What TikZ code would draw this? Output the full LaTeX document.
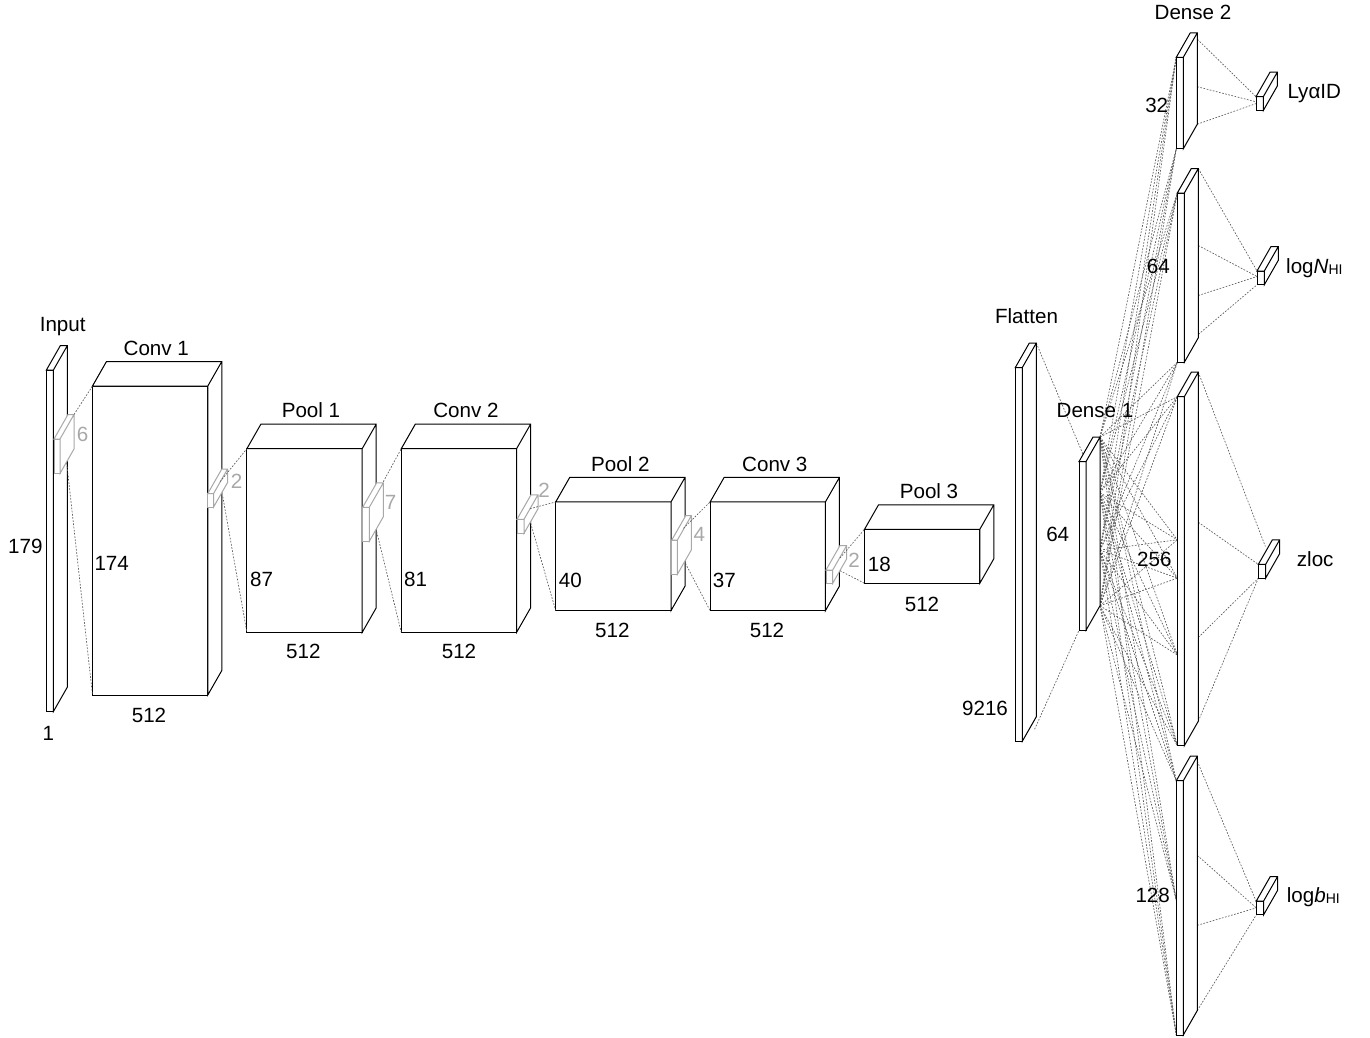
\documentclass[tikz,border=0pt]{standalone}
\usepackage{fontspec}
\setmainfont{Liberation Sans}
\usetikzlibrary{positioning, calc, backgrounds}
\definecolor{kerngray}{HTML}{A8A8A8}
\definecolor{linkgray}{HTML}{5A5A5A}
\newcommand{\hisub}{\raisebox{-1pt}{\fontsize{14}{14}\selectfont HI}}

\begin{document}
\begin{tikzpicture}[
  x=1pt, y=-1pt,
  node distance=39.1pt,
  layerbox/.style={draw=black, line width=1pt, fill=white, inner sep=0pt, outer sep=0pt},
  kernelbox/.style={draw=kerngray, line width=1pt, fill=white, inner sep=0pt, outer sep=0pt},
  bigbox/.style={layerbox, minimum width=115.3pt},
  slimbox/.style={layerbox, minimum width=7pt},
  outbox/.style={layerbox, minimum width=7.3pt, minimum height=13.8pt},
  link/.style={draw=linkgray, line width=0.65pt, dash pattern=on 1.7pt off 1.5pt},
  lbl/.style={anchor=base, inner sep=0pt, font=\fontsize{20.6}{24}\selectfont},
  kernlbl/.style={lbl, text=kerngray},
  outlbl/.style={lbl, anchor=base west}
]
  \useasboundingbox (0,0) rectangle (1370,1038);

  \node[slimbox, minimum height=341.5pt] (input) at (49.9,540.75) {};
  \node[bigbox, minimum height=309pt, right=of input, yshift=0.25pt] (conv1) {};
  \node[bigbox, minimum height=183.7pt, right=of conv1] (pool1) {};
  \node[bigbox, minimum height=183.7pt, right=of pool1] (conv2) {};
  \node[bigbox, minimum height=108.7pt, right=of conv2, yshift=-15.8pt] (pool2) {};
  \node[bigbox, minimum height=108.7pt, right=of pool2] (conv3) {};
  \node[bigbox, minimum height=54pt, right=of conv3] (pool3) {};
  \node[slimbox, minimum height=373.7pt, right=35.5pt of pool3, yshift=1.9pt] (flatten) {};
  \node[slimbox, minimum height=168.7pt, right=56.7pt of flatten, yshift=8.5pt] (dense1) {};

  \node[slimbox, minimum height=91.4pt, anchor=north west] (dlya) at (1176.3,57.3) {};
  \node[slimbox, minimum height=169.3pt, anchor=north west] (dlogn) at (1177.3,193) {};
  \node[slimbox, minimum height=349pt, anchor=north west] (dzloc) at (1177.3,396.7) {};
  \node[slimbox, minimum height=254.3pt, anchor=north west] (dlogb) at (1176.3,780.7) {};

  \node[outbox, anchor=north west] (olya) at (1256,96.7) {};
  \node[outbox, anchor=north west] (ologn) at (1257,271) {};
  \node[outbox, anchor=north west] (ozloc) at (1258.3,564.4) {};
  \node[outbox, anchor=north west] (ologb) at (1256.3,901) {};

  \foreach \n in {input,conv1,pool1,conv2,pool2,conv3,pool3,flatten,dense1,dlya,dlogn,dzloc,dlogb,olya,ologn,ozloc,ologb}
    \draw[layerbox] (\n.north west) -- ($(\n.north west)+(14,-24.5)$) -- ($(\n.north east)+(14,-24.5)$)
      -- ($(\n.south east)+(14,-24.5)$) -- (\n.south east) -- (\n.north east) -- cycle
      (\n.north east) -- ($(\n.north east)+(14,-24.5)$);

  \node[kernelbox, minimum width=6pt, minimum height=34.5pt, anchor=north west] (k1) at (54,439) {};
  \node[kernelbox, minimum width=5.8pt, minimum height=13.5pt, anchor=north west] (k2) at (207.8,493.5) {};
  \node[kernelbox, minimum width=6.6pt, minimum height=34pt, anchor=north west] (k3) at (362.7,507.3) {};
  \node[kernelbox, minimum width=7pt, minimum height=14pt, anchor=north west] (k4) at (517,519.3) {};
  \node[kernelbox, minimum width=5.6pt, minimum height=34.3pt, anchor=north west] (k5) at (671.8,540) {};
  \node[kernelbox, minimum width=6.7pt, minimum height=13.3pt, anchor=north west] (k6) at (826,570) {};

  \foreach \n in {k1,k2,k3,k4,k5,k6}
    \draw[kernelbox] (\n.north west) -- ($(\n.north west)+(14,-24.5)$) -- ($(\n.north east)+(14,-24.5)$)
      -- ($(\n.south east)+(14,-24.5)$) -- (\n.south east) -- (\n.north east) -- cycle
      (\n.north east) -- ($(\n.north east)+(14,-24.5)$);

  \foreach \k/\nxt/\ax/\ay/\bx/\by in {k1/conv1/14/-24.5/6.7/-10.5, k2/pool1/6.5/-11.8/9.2/-10.3,
      k3/conv2/14/-25.6/7.4/-9.6, k4/pool2/6/-10.6/6.7/-10, k5/conv3/6/-11.7/8/-11, k6/pool3/7.3/-12/7.3/-12.6} {
    \draw[link] ($(\k.north east)+(\ax,\ay)$) -- (\nxt.north west);
    \draw[link] ($(\k.south east)+(\bx,\by)$) -- (\nxt.south west);
  }

  \begin{scope}[on background layer]
    \draw[link] ($(flatten.north east)+(14,-24.5)$) -- (dense1.north east);
    \draw[link] ($(flatten.south east)+(12.3,-12)$) -- (dense1.south west);
    \draw[link] ($(dzloc.north east)+(14,-24.5)$) -- ($(ozloc.north west)+(7,-18)$);

    \foreach \s in {0,.33,.67,1}
      \foreach \tgt/\f in {dlya/0,dlya/1,dlogn/0,dlogn/1,dzloc/0,dzloc/.41,dzloc/.52,dzloc/.74,dzloc/1,dlogb/0,dlogb/.47,dlogb/1}
        \draw[link] ($(dense1.north east)!\s!(dense1.south east)+(14,-24.5)$) -- ($(\tgt.north west)!\f!(\tgt.south west)$);

    \foreach \blk/\outp/\f/\g in {dlya/olya/.07/0, dlya/olya/.59/.37, dlya/olya/1/.5,
        dlogn/ologn/0/0, dlogn/ologn/.455/.4, dlogn/ologn/.75/.4, dlogn/ologn/.98/1,
        dzloc/ozloc/.43/0, dzloc/ozloc/.76/1, dzloc/ozloc/1/1,
        dlogb/ologb/.02/.05, dlogb/ologb/.39/.5, dlogb/ologb/.665/.5, dlogb/ologb/1/1}
      \draw[link] ($(\blk.north east)!\f!(\blk.south east)+(14,-24.5)$) -- ($(\outp.north west)!\g!(\outp.south west)$);
  \end{scope}

  \foreach \x/\y/\t [count=\i] in {62.7/331/Input, 156.3/355.7/Conv 1, 311/417.7/Pool 1, 466/417.7/Conv 2,
      620.3/471.7/Pool 2, 774.8/471.7/Conv 3, 929/498/Pool 3, 1026.5/323/Flatten, 1095/417.3/Dense 1, 1193/20/Dense 2,
      25.3/553.3/179, 48.3/740/1, 149/722.3/512, 111.7/570/174, 303.3/658.3/512, 261.7/586.7/87,
      459/658.3/512, 415.7/586.7/81, 612.3/637.7/512, 570.3/587.7/40, 767/637.7/512, 724.3/587.7/37,
      879.3/571.7/18, 922/611/512, 985/715/9216, 1057.7/541.7/64, 1154.3/566.7/256,
      1156.7/112.7/32, 1158.3/273.3/64, 1152.7/902.7/128}
    \node[lbl] (lab\i) at (\x,\y) {\t};

  \foreach \x/\y/\t [count=\i] in {82.7/441/6, 236.7/488.3/2, 390.7/509/7, 544/497.7/2, 699.3/541.7/4, 854/567.7/2}
    \node[kernlbl] (kl\i) at (\x,\y) {\t};

  \node[outlbl] (lya) at (1287.3,99) {LyαID};
  \node[outlbl] (logn) at (1286,273.3) {log\textit{N}\hisub};
  \node[outlbl] (zloc) at (1296.7,566.7) {zloc};
  \node[outlbl] (logb) at (1286.7,902.7) {log\textit{b}\hisub};
\end{tikzpicture}
\end{document}
